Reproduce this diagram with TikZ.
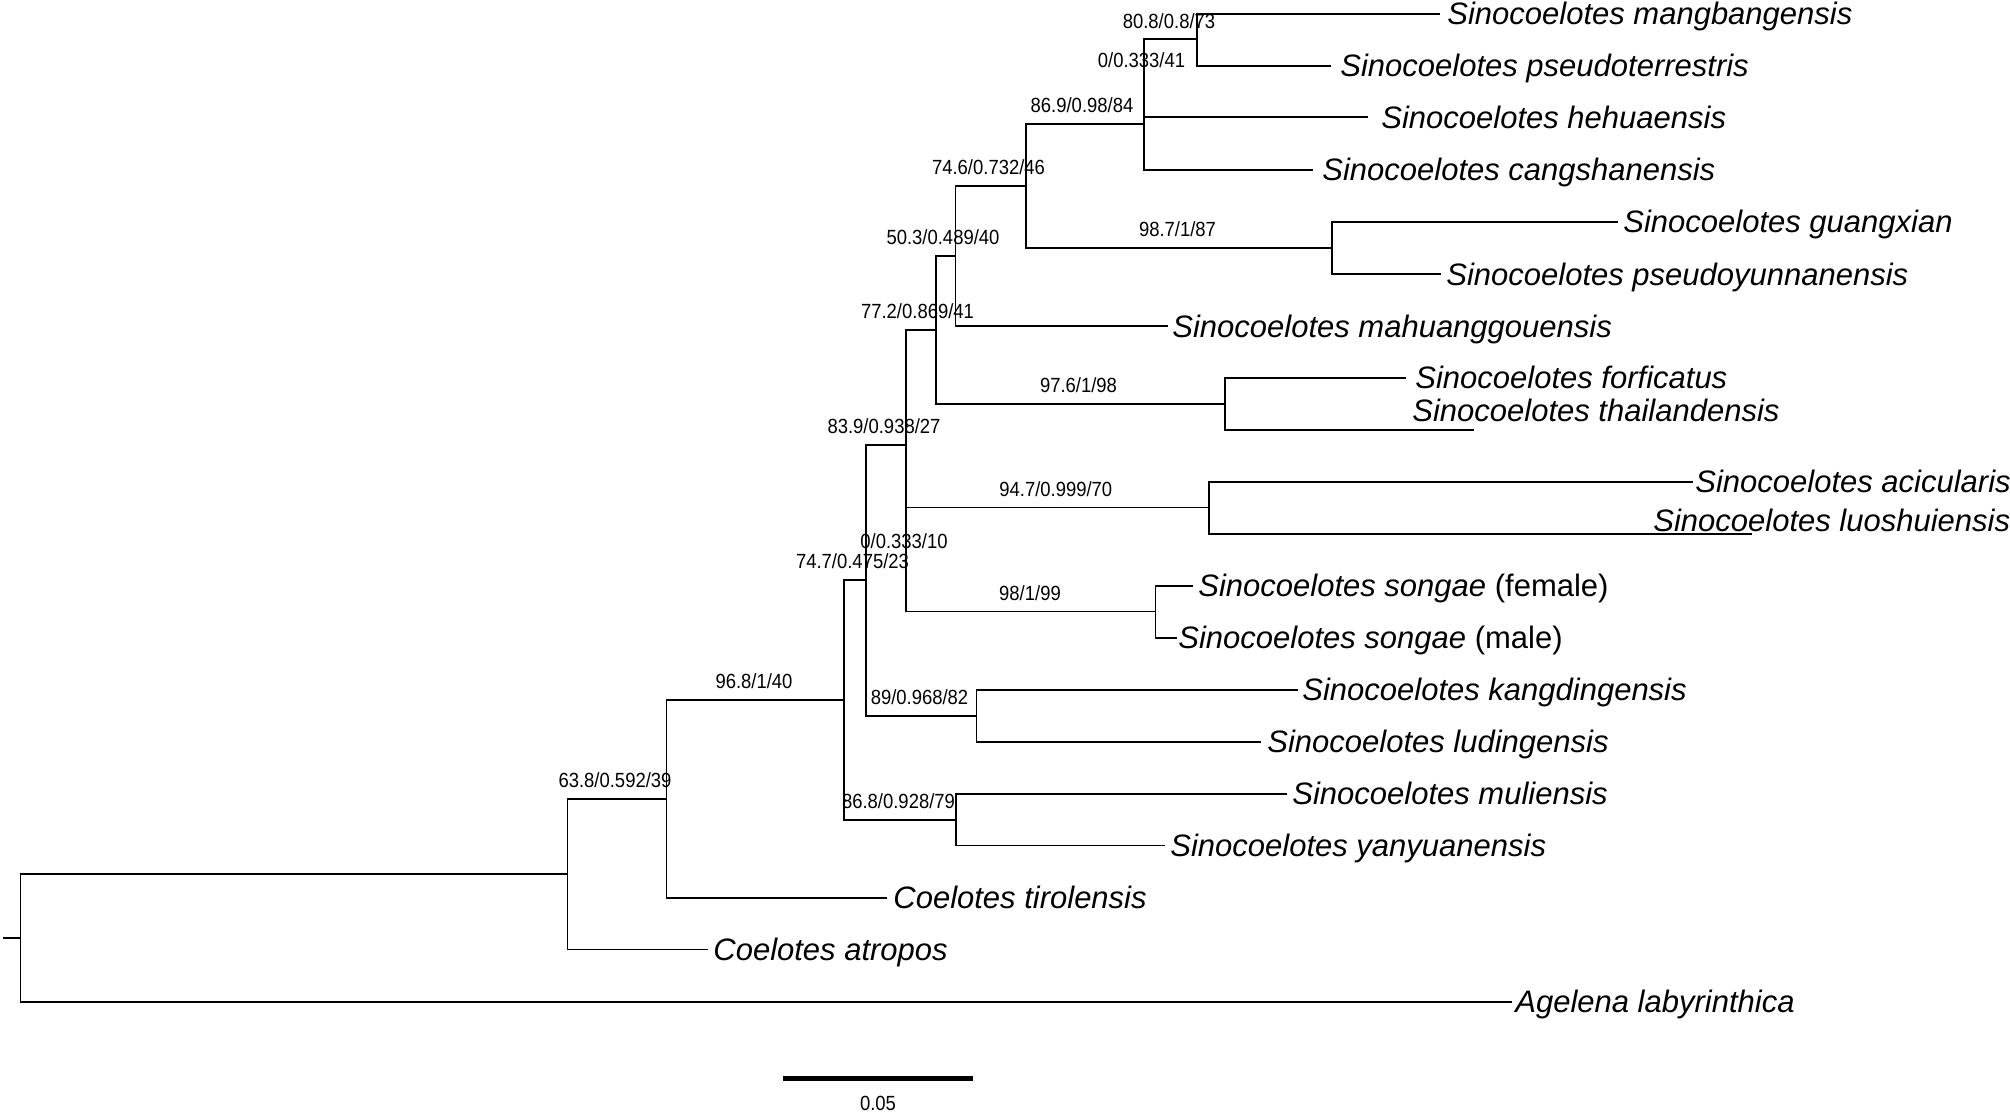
\documentclass[tikz,border=0pt]{standalone}
\usepackage{fontspec}
\setmainfont{Liberation Sans}
\newfontfamily\suppfont[FakeStretch=0.9]{Liberation Sans}
\usetikzlibrary{calc}
\begin{document}
\begin{tikzpicture}[x=0.5pt,y=-0.5pt,
  br/.style={line width=0.85pt, line join=miter},
  sp/.style={anchor=base west, inner sep=0pt, font=\fontsize{15.5pt}{18pt}\selectfont\itshape},
  supp/.style={anchor=base, inner sep=0pt, font=\suppfont\fontsize{10.25pt}{12pt}\selectfont},
  scalebar/.style={line width=2.5pt}]
\useasboundingbox (0,0) rectangle (2010,1112);
% internal nodes
\coordinate (R0) at (3.2,938);
\coordinate (R) at (20.4,938);
\coordinate (M) at (567.6,874.3);
\coordinate (N) at (666.5,799);
\coordinate (L) at (843.8,700);
\coordinate (I) at (866,580.3);
\coordinate (H) at (906.2,444.8);
\coordinate (Hz) at (906.2,559.5);
\coordinate (F) at (935.7,330);
\coordinate (E) at (955.5,255.7);
\coordinate (C) at (1026.3,186);
\coordinate (B) at (1143.9,124);
\coordinate (Bz) at (1143.9,78.3);
\coordinate (A) at (1196.9,39.3);
\coordinate (D) at (1331.7,247.7);
\coordinate (G) at (1225,403.9);
\coordinate (J) at (1209,507.5);
\coordinate (K) at (1155.5,611.5);
\coordinate (O) at (976.5,716);
\coordinate (P) at (955.8,820);
% leaf tips
\coordinate (p1) at (1440,13.7);
\coordinate (p2) at (1331,65.7);
\coordinate (p3) at (1368,117.3);
\coordinate (p4) at (1313,169.7);
\coordinate (p5) at (1618,221.7);
\coordinate (p6) at (1441,274);
\coordinate (p7) at (1168,326);
\coordinate (p8) at (1406,377.7);
\coordinate (p9) at (1473.5,430);
\coordinate (p10) at (1693,481.7);
\coordinate (p11) at (1752,533.7);
\coordinate (p12) at (1193,585.7);
\coordinate (p13) at (1177,637.7);
\coordinate (p14) at (1298,689.7);
\coordinate (p15) at (1261,741.7);
\coordinate (p16) at (1287,793.7);
\coordinate (p17) at (1165,845.5);
\coordinate (p18) at (886.5,897.7);
\coordinate (p19) at (708,949.5);
\coordinate (p20) at (1511.7,1001.7);
% leaf labels
\node[sp] (t1) at (1447,24.9) {Sinocoelotes mangbangensis};
\node[sp] (t2) at (1340,76.9) {Sinocoelotes pseudoterrestris};
\node[sp] (t3) at (1381,128.5) {Sinocoelotes hehuaensis};
\node[sp] (t4) at (1322,180.9) {Sinocoelotes cangshanensis};
\node[sp] (t5) at (1623,232.9) {Sinocoelotes guangxian};
\node[sp] (t6) at (1446,285.2) {Sinocoelotes pseudoyunnanensis};
\node[sp] (t7) at (1172,337.2) {Sinocoelotes mahuanggouensis};
\node[sp] (t8) at (1415,388.9) {Sinocoelotes forficatus};
\node[sp] (t9) at (1412,421.9) {Sinocoelotes thailandensis};
\node[sp] (t10) at (1695,492.9) {Sinocoelotes acicularis};
\node[sp] (t11) at (1653,531.9) {Sinocoelotes luoshuiensis};
\node[sp] (t12) at (1198,596.9) {Sinocoelotes songae\upshape{} (female)};
\node[sp] (t13) at (1178,648.9) {Sinocoelotes songae\upshape{} (male)};
\node[sp] (t14) at (1302,700.9) {Sinocoelotes kangdingensis};
\node[sp] (t15) at (1267,752.9) {Sinocoelotes ludingensis};
\node[sp] (t16) at (1292,804.9) {Sinocoelotes muliensis};
\node[sp] (t17) at (1170,856.7) {Sinocoelotes yanyuanensis};
\node[sp] (t18) at (893,908.9) {Coelotes tirolensis};
\node[sp] (t19) at (713,960.7) {Coelotes atropos};
\node[sp] (t20) at (1515,1012.9) {Agelena labyrinthica};
% branches
\draw[br] (R0) -- (R);
\draw[br] (R) |- (M);  \draw[br] (R) |- (p20);
\draw[br] (M) |- (N);  \draw[br] (M) |- (p19);
\draw[br] (N) |- (L);  \draw[br] (N) |- (p18);
\draw[br] (L) |- (I);  \draw[br] (L) |- (P);
\draw[br] (P) |- (p16); \draw[br] (P) |- (p17);
\draw[br] (I) |- (H);  \draw[br] (I) |- (O);
\draw[br] (O) |- (p14); \draw[br] (O) |- (p15);
\draw[br] (H) |- (F);  \draw[br] (H) |- (Hz);
\draw[br] (Hz) |- (J); \draw[br] (Hz) |- (K);
\draw[br] (J) |- (p10); \draw[br] (J) |- (p11);
\draw[br] (K) |- (p12); \draw[br] (K) |- (p13);
\draw[br] (F) |- (E);  \draw[br] (F) |- (G);
\draw[br] (G) |- (p8); \draw[br] (G) |- (p9);
\draw[br] (E) |- (C);  \draw[br] (E) |- (p7);
\draw[br] (C) |- (B);  \draw[br] (C) |- (D);
\draw[br] (D) |- (p5); \draw[br] (D) |- (p6);
\draw[br] (B) |- (Bz); \draw[br] (B) |- (p4);
\draw[br] (Bz) |- (A); \draw[br] (Bz) |- (p3);
\draw[br] (A) |- (p1); \draw[br] (A) |- (p2);
% support values
\node[supp] (s1) at (1169,28.3) {80.8/0.8/73};
\node[supp] (s2) at (1141.5,67.3) {0/0.333/41};
\node[supp] (s3) at (1082,113) {86.9/0.98/84};
\node[supp] (s4) at (988.5,175) {74.6/0.732/46};
\node[supp] (s5) at (1177.5,236.7) {98.7/1/87};
\node[supp] (s6) at (943,244.5) {50.3/0.489/40};
\node[supp] (s7) at (917.5,319) {77.2/0.869/41};
\node[supp] (s8) at (1078.5,392.8) {97.6/1/98};
\node[supp] (s9) at (884,433.8) {83.9/0.938/27};
\node[supp] (s10) at (1055.8,496.7) {94.7/0.999/70};
\node[supp] (s11) at (904,548.5) {0/0.333/10};
\node[supp] (s12) at (852.5,569) {74.7/0.475/23};
\node[supp] (s13) at (1030,600.5) {98/1/99};
\node[supp] (s14) at (754,689) {96.8/1/40};
\node[supp] (s15) at (919.5,704.5) {89/0.968/82};
\node[supp] (s16) at (615,787.6) {63.8/0.592/39};
\node[supp] (s17) at (898.5,808.5) {86.8/0.928/79};
% scale bar
\coordinate (sb1) at (782.7,1078.3);
\coordinate (sb2) at (973.3,1078.3);
\draw[scalebar] (sb1) -- (sb2);
\node[supp] (sbl) at (878,1110) {0.05};
\end{tikzpicture}
\end{document}
